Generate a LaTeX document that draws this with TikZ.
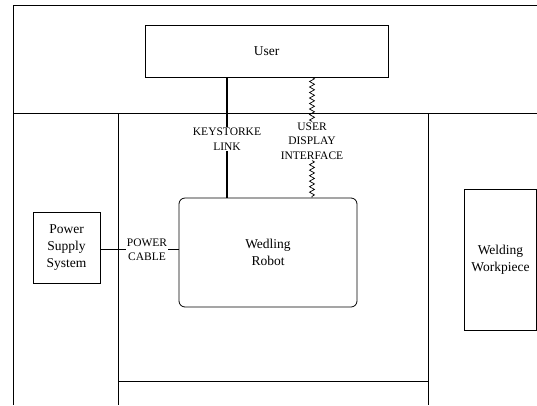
\documentclass[tikz,border=0pt]{standalone}
\usepackage{fontspec}
\setmainfont{Liberation Serif}
\usetikzlibrary{decorations.pathmorphing}

\begin{document}
\begin{tikzpicture}[x=1pt, y=-1pt,
        block/.style={rectangle, draw=black, line width=0.8pt, align=center, font={\fontsize{13.5}{17}\selectfont}, inner sep=0pt},
        linklabel/.style={align=center, font={\fontsize{11.5}{14.5}\selectfont}, inner sep=1pt},
        region/.style={line width=0.8pt},
        keyline/.style={line width=2pt},
        wavy/.style={line width=0.7pt, decorate, decoration={zigzag, segment length=5.5pt, amplitude=2.5pt}},
        cable/.style={line width=0.8pt}
    ]
        \useasboundingbox (0,0) rectangle (537,405);
        % Environment regions
        \draw [region] (537,5) -- (13,5) -- (13,405);
        \draw [region] (13,113) -- (537,113);
        \draw [region] (118,113) -- (118,405);
        \draw [region] (428,113) -- (428,405);
        \draw [region] (118,381) -- (428,381);
        % Blocks
        \node (user) [block, minimum width=243pt, minimum height=52pt] at (266.5, 51) {User};
        \node (power) [block, minimum width=67pt, minimum height=71pt] at (66.5, 247.5) {Power\\Supply\\System};
        \node (robot) [block, rounded corners=6pt, minimum width=178pt, minimum height=109pt] at (268, 252.5) {Wedling\\Robot};
        \node (workpiece) [block, minimum width=72pt, minimum height=141pt] at (500.5, 259.5) {Welding\\Workpiece};
        % Link labels
        \node (keylink) [linklabel, fill=white] at (227, 139) {KEYSTORKE\\LINK};
        \node (display) [linklabel] at (312, 141) {USER\\DISPLAY\\INTERFACE};
        \node (cablelabel) [linklabel] at (147, 249.5) {POWER\\CABLE};
        % Links
        \draw [keyline] (user.south -| keylink) -- (keylink.north);
        \draw [keyline] (keylink.south) -- (robot.north -| keylink);
        \draw [wavy] (user.south -| display) -- (display.north);
        \draw [wavy] (display.south) -- (robot.north -| display);
        \draw [cable] (power.east |- cablelabel) -- (cablelabel.west);
        \draw [cable] (cablelabel.east) -- (robot.west |- cablelabel);
    \end{tikzpicture}
\end{document}
